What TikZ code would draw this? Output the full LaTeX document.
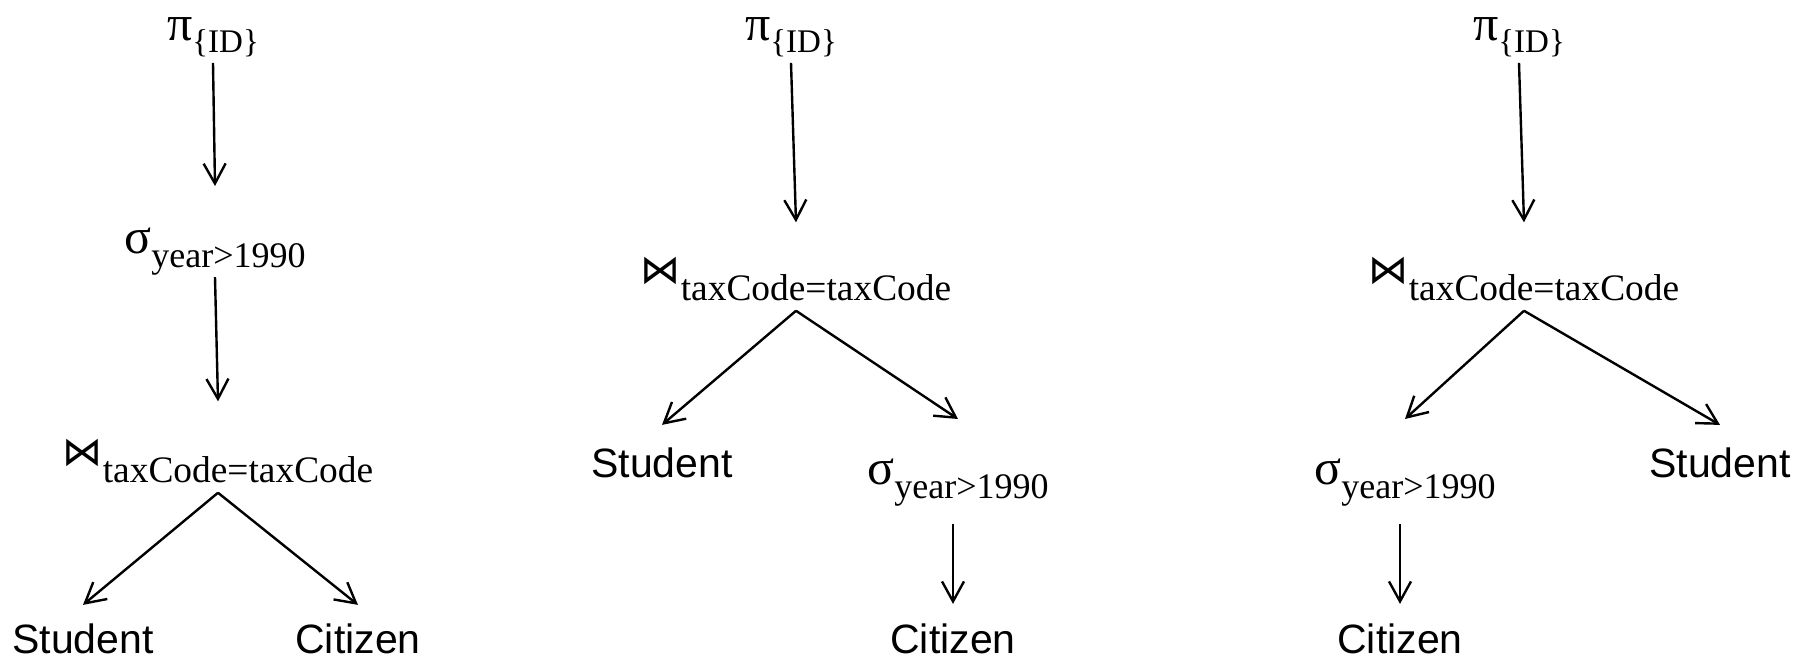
\documentclass[tikz,border=0pt]{standalone}
\usepackage{fontspec}
\setmainfont{Liberation Serif}
\newfontfamily\relfont{Liberation Sans}
\newfontfamily\symfont{DejaVu Sans}
\usetikzlibrary{arrows.meta}

\newcommand{\projop}{{\fontsize{25}{25}\selectfont π}\raisebox{-6pt}{\fontsize{16.5}{16.5}\selectfont\{ID\}}}
\newcommand{\selop}{{\fontsize{25}{25}\selectfont σ}\raisebox{-7pt}{\fontsize{18}{18}\selectfont year>1990}}
\newcommand{\joinop}{{\symfont\fontsize{20}{20}\selectfont ⋈}\raisebox{-8.5pt}{\fontsize{18.7}{18.7}\selectfont taxCode=taxCode}}

\begin{document}
\begin{tikzpicture}[x=0.5pt, y=-0.5pt,
    op/.style={inner sep=0pt, anchor=base},
    rel/.style={inner sep=0pt, anchor=base, font=\relfont\fontsize{20.5}{20.5}\selectfont},
    arr/.style={-{Straight Barb[length=10pt,width=11pt]}, line width=1.2pt}]
            \useasboundingbox (0,0) rectangle (1800,659);
            \node[op] (pi1) at (213,40) {\projop};
            \node[op] (sel1) at (215,253) {\selop};
            \node[op] (join1) at (218,465) {\joinop};
            \node[rel] (stu1) at (83,653) {Student};
            \node[rel] (cit1) at (358,653) {Citizen};
            \draw[arr] ([yshift=-3pt]pi1.south) -- ([yshift=20.5pt]sel1.north);
            \draw[arr] ([yshift=-1pt]sel1.south) -- ([yshift=18.5pt]join1.north);
            \draw[arr] ([yshift=-5pt]join1.south) -- ([yshift=9pt]stu1.north);
            \draw[arr] ([yshift=-5pt]join1.south) -- ([yshift=9pt]cit1.north);

            \node[op] (pi2) at (791,40) {\projop};
            \node[op] (join2) at (796,283) {\joinop};
            \node[rel] (stu2) at (662,477) {Student};
            \node[op] (sel2) at (958,484) {\selop};
            \node[rel] (cit2) at (953,653) {Citizen};
            \draw[arr] ([yshift=-3pt]pi2.south) -- ([yshift=17pt]join2.north);
            \draw[arr] ([yshift=-5pt]join2.south) -- ([yshift=11pt]stu2.north);
            \draw[arr] ([yshift=-5pt]join2.south) -- ([yshift=19.5pt]sel2.north);
            \draw[arr] ([yshift=-9pt]sel2.south -| cit2.north) -- ([yshift=9.5pt]cit2.north);

            \node[op] (pi3) at (1519,40) {\projop};
            \node[op] (join3) at (1524,283) {\joinop};
            \node[op] (sel3) at (1405,484) {\selop};
            \node[rel] (stu3) at (1720,477) {Student};
            \node[rel] (cit3) at (1400,653) {Citizen};
            \draw[arr] ([yshift=-3pt]pi3.south) -- ([yshift=17pt]join3.north);
            \draw[arr] ([yshift=-5pt]join3.south) -- ([yshift=19.5pt]sel3.north);
            \draw[arr] ([yshift=-5pt]join3.south) -- ([yshift=11pt]stu3.north);
            \draw[arr] ([yshift=-9pt]sel3.south -| cit3.north) -- ([yshift=9.5pt]cit3.north);
\end{tikzpicture}
\end{document}
